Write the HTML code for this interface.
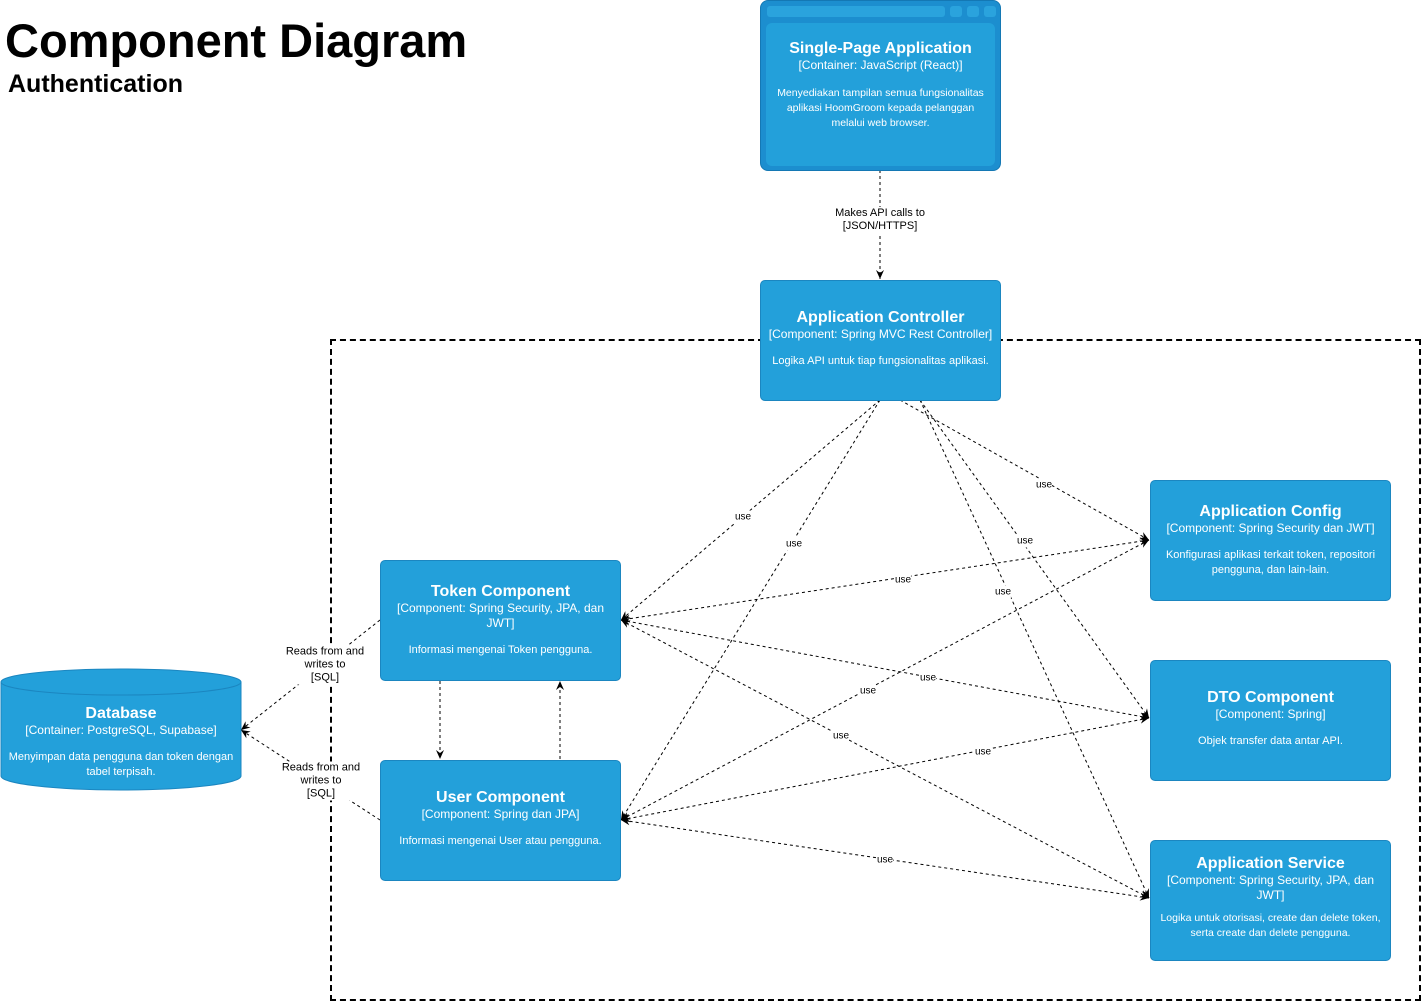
<!DOCTYPE html>
<html><head><meta charset="utf-8"><style>
body{margin:0;width:1422px;height:1002px;background:#fff;font-family:"Liberation Sans",Arial,sans-serif;position:relative;overflow:hidden}
.b{position:absolute;background:#23a0da;border:1px solid #1b86c0;border-radius:5px;color:#fff;text-align:center;box-sizing:border-box}
.t{font-weight:bold;font-size:16px;margin-top:22px}
.s{font-size:12px;line-height:15px;padding:0 12px}
.d{font-size:11px;line-height:15px;margin-top:12px;padding:0 6px}
.lbl{position:absolute;font-size:11px;background:#fff;text-align:center;line-height:13px;transform:translate(-50%,-50%)}
</style></head><body>
<div style="position:absolute;left:5px;top:13px;font-size:47px;font-weight:bold">Component Diagram</div>
<div style="position:absolute;left:8px;top:70px;font-size:25px;font-weight:bold">Authentication</div>
<div style="position:absolute;left:330px;top:339px;width:1091px;height:662px;border:2px dashed #000;box-sizing:border-box"></div>
<svg style="position:absolute;left:0;top:0" width="1422" height="1002">
<defs><marker id="a" markerWidth="10" markerHeight="10" refX="9" refY="5" orient="auto-start-reverse"><path d="M0,1 L9,5 L0,9 L3,5z" fill="#000"/></marker></defs>
<g stroke="#000" stroke-dasharray="3,3" fill="none" stroke-width="1">
<line x1="880" y1="170" x2="880" y2="279" marker-end="url(#a)"/>
<line x1="880" y1="400" x2="621" y2="620" marker-end="url(#a)"/>
<line x1="880" y1="400" x2="621" y2="820" marker-end="url(#a)"/>
<line x1="900" y1="400" x2="1149" y2="540" marker-end="url(#a)"/>
<line x1="920" y1="400" x2="1149" y2="718" marker-end="url(#a)"/>
<line x1="920" y1="400" x2="1149" y2="898" marker-end="url(#a)"/>
<line x1="1149" y1="540" x2="621" y2="620" marker-end="url(#a)" marker-start="url(#a)"/>
<line x1="1149" y1="540" x2="621" y2="820" marker-end="url(#a)" marker-start="url(#a)"/>
<line x1="1149" y1="718" x2="621" y2="620" marker-end="url(#a)" marker-start="url(#a)"/>
<line x1="1149" y1="718" x2="621" y2="820" marker-end="url(#a)" marker-start="url(#a)"/>
<line x1="1149" y1="898" x2="621" y2="620" marker-end="url(#a)" marker-start="url(#a)"/>
<line x1="1149" y1="898" x2="621" y2="820" marker-end="url(#a)" marker-start="url(#a)"/>
<line x1="440" y1="681" x2="440" y2="759" marker-end="url(#a)"/>
<line x1="560" y1="759" x2="560" y2="681" marker-end="url(#a)"/>
<line x1="380" y1="620" x2="241" y2="730" marker-end="url(#a)"/>
<line x1="380" y1="820" x2="241" y2="730" marker-end="url(#a)"/>
</g></svg>
<div class="lbl" style="left:880px;top:220px">Makes API calls to<br>[JSON/HTTPS]</div>
<div class="lbl" style="left:743px;top:517px;font-size:10px">use</div>
<div class="lbl" style="left:794px;top:544px;font-size:10px">use</div>
<div class="lbl" style="left:1044px;top:485px;font-size:10px">use</div>
<div class="lbl" style="left:1025px;top:541px;font-size:10px">use</div>
<div class="lbl" style="left:1003px;top:592px;font-size:10px">use</div>
<div class="lbl" style="left:903px;top:580px;font-size:10px">use</div>
<div class="lbl" style="left:868px;top:691px;font-size:10px">use</div>
<div class="lbl" style="left:928px;top:678px;font-size:10px">use</div>
<div class="lbl" style="left:983px;top:752px;font-size:10px">use</div>
<div class="lbl" style="left:841px;top:736px;font-size:10px">use</div>
<div class="lbl" style="left:885px;top:860px;font-size:10px">use</div>
<div class="lbl" style="left:325px;top:665px">Reads from and<br>writes to<br>[SQL]</div>
<div class="lbl" style="left:321px;top:781px">Reads from and<br>writes to<br>[SQL]</div>

<div class="b" style="left:760px;top:0;width:241px;height:171px;background:#1c8ecf;border-radius:8px;border-color:#1478b4">
<div style="position:absolute;left:6px;top:5px;width:178px;height:11px;background:#2aa3dd;border-radius:3px"></div>
<div style="position:absolute;left:189px;top:5px;width:12px;height:11px;background:#2aa3dd;border-radius:3px"></div>
<div style="position:absolute;left:206px;top:5px;width:12px;height:11px;background:#2aa3dd;border-radius:3px"></div>
<div style="position:absolute;left:223px;top:5px;width:12px;height:11px;background:#2aa3dd;border-radius:3px"></div>
<div style="position:absolute;left:5px;top:22px;width:229px;height:143px;background:#23a0da;border-radius:6px">
<div class="t" style="margin-top:17px">Single-Page Application</div><div class="s">[Container: JavaScript (React)]</div><div class="d" style="margin-top:13px;padding:0;font-size:10.5px">Menyediakan tampilan semua fungsionalitas<br>aplikasi HoomGroom kepada pelanggan<br>melalui web browser.</div></div></div>

<div class="b" style="left:760px;top:280px;width:241px;height:121px"><div class="t" style="margin-top:28px">Application Controller</div><div class="s" style="padding:0">[Component: Spring MVC Rest Controller]</div><div class="d">Logika API untuk tiap fungsionalitas aplikasi.</div></div>
<div class="b" style="left:380px;top:560px;width:241px;height:121px"><div class="t">Token Component</div><div class="s">[Component: Spring Security, JPA, dan JWT]</div><div class="d">Informasi mengenai Token pengguna.</div></div>
<div class="b" style="left:380px;top:760px;width:241px;height:121px"><div class="t" style="margin-top:28px">User Component</div><div class="s">[Component: Spring dan JPA]</div><div class="d">Informasi mengenai User atau pengguna.</div></div>
<div class="b" style="left:1150px;top:480px;width:241px;height:121px"><div class="t">Application Config</div><div class="s" style="padding:0">[Component: Spring Security dan JWT]</div><div class="d">Konfigurasi aplikasi terkait token, repositori pengguna, dan lain-lain.</div></div>
<div class="b" style="left:1150px;top:660px;width:241px;height:121px"><div class="t" style="margin-top:28px">DTO Component</div><div class="s">[Component: Spring]</div><div class="d">Objek transfer data antar API.</div></div>
<div class="b" style="left:1150px;top:840px;width:241px;height:121px"><div class="t" style="margin-top:14px">Application Service</div><div class="s">[Component: Spring Security, JPA, dan JWT]</div><div class="d" style="margin-top:8px;padding:0;font-size:10.5px">Logika untuk otorisasi, create dan delete token, serta create dan delete pengguna.</div></div>

<svg style="position:absolute;left:0;top:668px" width="242" height="125">
<path d="M1,14 L1,108 A120,14 0 0 0 241,108 L241,14" fill="#23a0da" stroke="#1b86c0"/>
<ellipse cx="121" cy="14" rx="120" ry="13" fill="#23a0da" stroke="#1b86c0"/>
</svg>
<div style="position:absolute;left:0;top:705px;width:242px;text-align:center;color:#fff">
<div style="font-weight:bold;font-size:16px">Database</div><div class="s" style="padding:0">[Container: PostgreSQL, Supabase]</div><div class="d" style="padding:0 2px">Menyimpan data pengguna dan token dengan tabel terpisah.</div></div>
</body></html>
